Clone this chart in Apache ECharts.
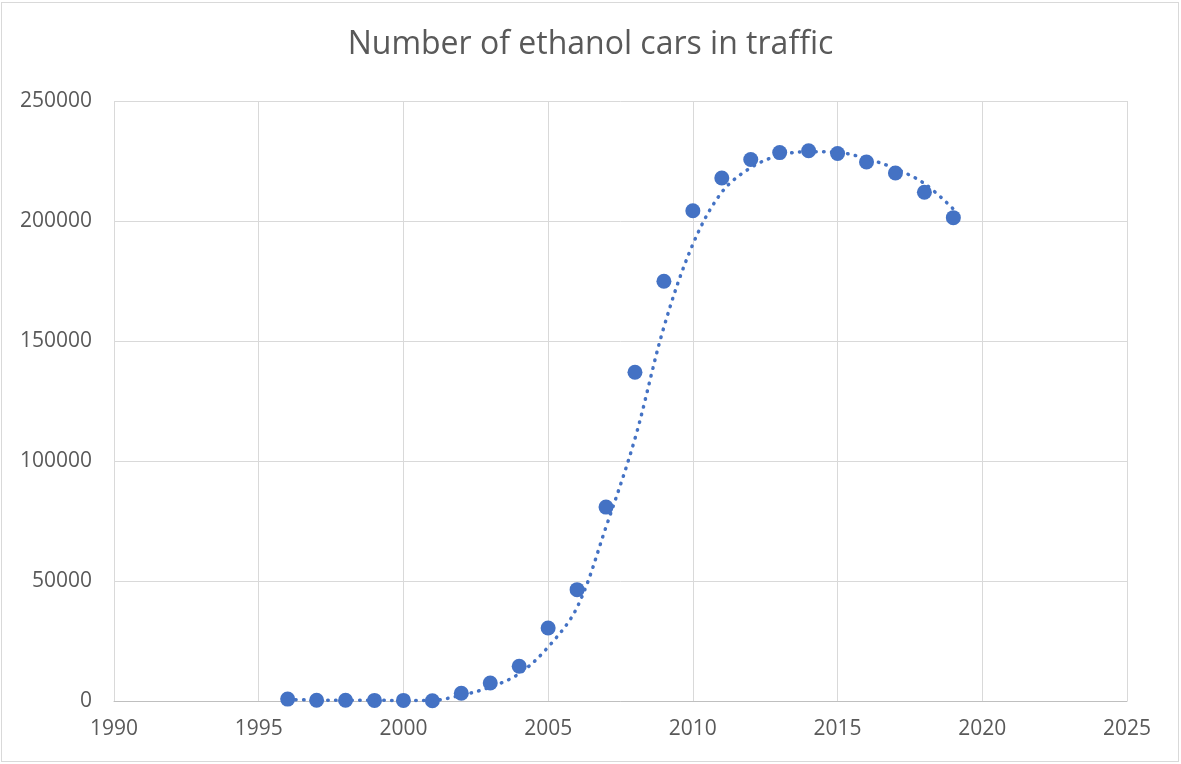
<!DOCTYPE html>
<html>
<head>
<meta charset="utf-8">
<script src="https://cdn.jsdelivr.net/npm/echarts@6/dist/echarts.min.js"></script>
<style>
html,body{margin:0;padding:0;background:#fff;}
#wrap{position:relative;width:1181px;height:764px;}
#chart{position:absolute;left:0;top:0;width:1181px;height:764px;}
#frame{position:absolute;left:1px;top:2px;width:1176px;height:758px;border:1px solid #d9d9d9;pointer-events:none;}
</style>
</head>
<body>
<div id="wrap"><div id="chart"></div><div id="frame"></div></div>
<script>
const titleText = 'Number of ethanol cars in traffic';
const years = [1996,1997,1998,1999,2000,2001,2002,2003,2004,2005,2006,2007,2008,2009,2010,2011,2012,2013,2014,2015,2016,2017,2018,2019];
const cars = [800,300,300,250,250,100,3200,7500,14500,30400,46400,80800,137000,174900,204300,217900,225600,228500,229300,228100,224600,220000,212000,201400];
const trendYears = [1996,1997,1998,1999,2000,2001,2002,2003,2004,2005,2006,2007,2008,2009,2010,2011,2012,2013,2014,2015,2016,2017,2018,2019];
const trendValues = [600,400,300,300,200,300,2400,5800,11400,22500,39000,72500,109300,155800,190300,212000,222200,227400,228900,228600,226000,221800,215600,205000];

const FONT = '"Open Sans", "Noto Sans", sans-serif';
const TXT = '#595959';
const chart = echarts.init(document.getElementById('chart'), null, {renderer:'canvas'});
chart.setOption({
  animation:false,
  backgroundColor:'#fff',
  title:{text:titleText,left:'center',top:24,textStyle:{fontFamily:FONT,fontSize:32,fontWeight:'normal',color:TXT}},
  grid:{left:114,right:54,top:101,bottom:63,containLabel:false},
  xAxis:{type:'value',min:1990,max:2025,interval:5,
    axisLine:{show:true,onZero:true,lineStyle:{color:'#bfbfbf',width:1}},
    axisTick:{show:false},
    axisLabel:{color:TXT,fontFamily:FONT,fontSize:21,margin:18,formatter:v=>String(v)},
    splitLine:{show:true,lineStyle:{color:'#d9d9d9',width:1}}},
  yAxis:{type:'value',min:0,max:250000,interval:50000,
    axisLine:{show:false},axisTick:{show:false},
    axisLabel:{color:TXT,fontFamily:FONT,fontSize:21,margin:22,formatter:v=>String(v)},
    splitLine:{show:true,lineStyle:{color:'#d9d9d9',width:1}}},
  series:[
    {type:'scatter',data:years.map((y,i)=>[y,cars[i]]),symbol:'circle',symbolSize:15,
      itemStyle:{color:'#4472C4',opacity:1},z:2},
    {type:'line',data:trendYears.map((y,i)=>[y,trendValues[i]]),smooth:0.35,showSymbol:false,symbol:'none',
      lineStyle:{color:'#4472C4',width:3.5,type:[0.5,7.5],cap:'round'},z:3}
  ]
});
</script>
</body>
</html>
